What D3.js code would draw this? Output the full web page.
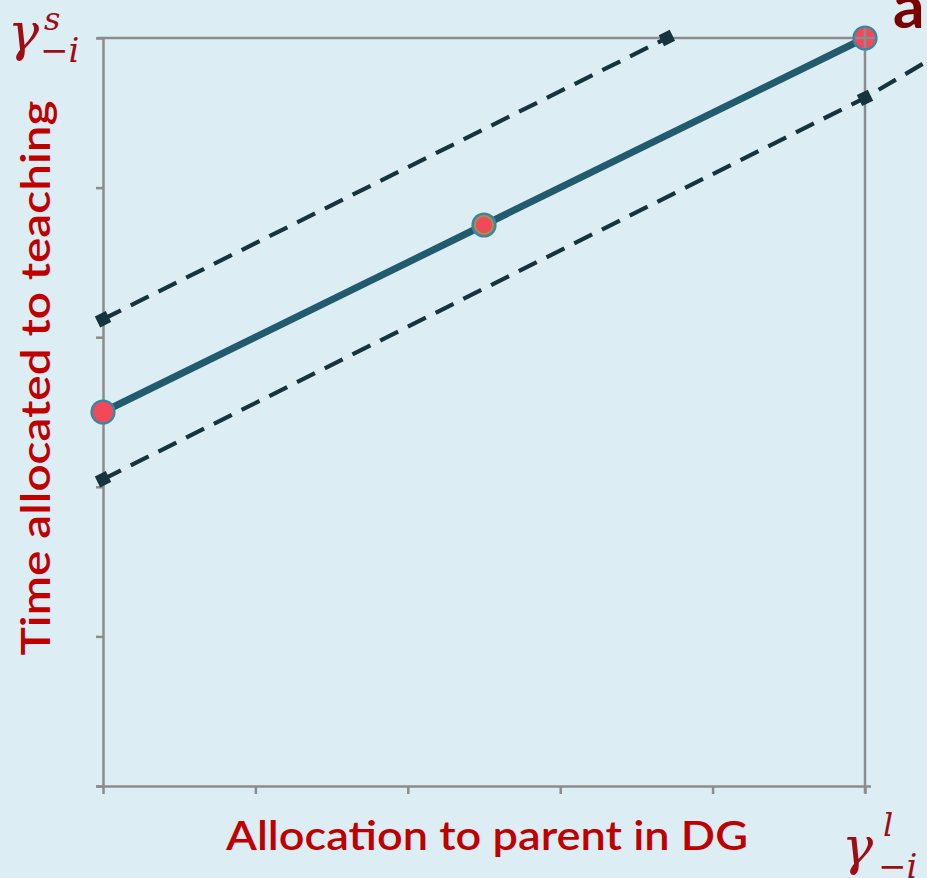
<!DOCTYPE html>
<html><head><meta charset="utf-8">
<script src="https://cdn.jsdelivr.net/npm/d3@7"></script>
<style>html,body{margin:0;padding:0;background:#dceef4;}svg{display:block;}</style>
</head><body>
<script>
// ---- data ----
const xTicks = [0, 1, 2, 3, 4, 5];
const yTicks = [0, 1, 2, 3, 4, 5];
const mainLine = [{x: 0, y: 2.5}, {x: 2.5, y: 3.75}, {x: 5, y: 5}];
const mainPoints = [{x: 0, y: 2.5}, {x: 2.5, y: 3.75, mid: true}, {x: 5, y: 5}];
const upperDash = [{x: 0, y: 3.12}, {x: 3.7, y: 5}];
const upperMarks = [{x: 0, y: 3.12}, {x: 3.7, y: 5}];
const lowerDash = [{x: 0, y: 2.05}, {x: 5, y: 4.6}, {x: 5.5, y: 4.9}];
const lowerMarks = [{x: 0, y: 2.05}, {x: 5, y: 4.6}];
const xTitle = "Allocation to parent in DG";
const yTitle = "Time allocated to teaching";

const W = 927, H = 878;
const svg = d3.select("body").append("svg").attr("width", W).attr("height", H);
svg.append("rect").attr("width", W).attr("height", H).attr("fill", "#dceef4");

const x = d3.scaleLinear().domain([0, 5]).range([103, 865]);
const y = d3.scaleLinear().domain([0, 5]).range([786, 38]);
const axisCol = "#8c8c8c";

// frame lines (top and right)
svg.append("line").attr("x1", x(0) - 6).attr("x2", x(5) + 6).attr("y1", y(5)).attr("y2", y(5))
  .attr("stroke", axisCol).attr("stroke-width", 2.5);
svg.append("line").attr("x1", x(5)).attr("x2", x(5)).attr("y1", y(5) - 8).attr("y2", y(0) + 7)
  .attr("stroke", axisCol).attr("stroke-width", 2.5);

// axes
const gy = svg.append("g").attr("transform", `translate(${x(0)},0)`)
  .call(d3.axisLeft(y).tickValues(yTicks).tickSize(7).tickSizeOuter(0).tickFormat(""));
const gx = svg.append("g").attr("transform", `translate(0,${y(0)})`)
  .call(d3.axisBottom(x).tickValues(xTicks).tickSize(8).tickSizeOuter(0).tickFormat(""));
[gx, gy].forEach(g => {
  g.selectAll("path,line").attr("stroke", axisCol).attr("stroke-width", 2.5);
});
gx.select("path").attr("d", `M${x(0) - 7},0.5H${x(5) + 6}`);

const line = d3.line().x(d => x(d.x)).y(d => y(d.y));

// dashed lines
[upperDash, lowerDash].forEach(data => {
  svg.append("path").attr("d", line(data)).attr("fill", "none")
    .attr("stroke", "#16343e").attr("stroke-width", 4.2).attr("stroke-dasharray", "20,11");
});
// main line
svg.append("path").attr("d", line(mainLine)).attr("fill", "none")
  .attr("stroke", "#215b6d").attr("stroke-width", 7);

// square markers on dashed lines
const ang = -Math.atan(0.5 * (y(0) - y(1)) / (x(1) - x(0))) * 180 / Math.PI;
svg.append("g").selectAll("path").data(upperMarks.concat(lowerMarks)).join("path")
  .attr("d", d3.symbol().type(d3.symbolSquare).size(150)())
  .attr("transform", d => `translate(${x(d.x)},${y(d.y)}) rotate(${ang})`)
  .attr("fill", "#16343e");

// round markers
const pts = svg.append("g").selectAll("g").data(mainPoints).join("g")
  .attr("transform", d => `translate(${x(d.x)},${y(d.y)})`);
pts.append("circle").attr("r", 11.5).attr("fill", "#f2495a")
  .attr("stroke", "#2f8aa6").attr("stroke-width", 2.2);
pts.filter(d => d.mid).append("circle").attr("r", 9).attr("fill", "none")
  .attr("stroke", "#8aa24e").attr("stroke-width", 1.6);
// axis lines over the right point (crosshair look)
svg.append("line").attr("x1", x(5) - 10).attr("x2", x(5) + 10).attr("y1", y(5)).attr("y2", y(5))
  .attr("stroke", axisCol).attr("stroke-width", 2.5);
svg.append("line").attr("x1", x(5)).attr("x2", x(5)).attr("y1", y(5) - 10).attr("y2", y(5) + 10)
  .attr("stroke", axisCol).attr("stroke-width", 2.5);

// titles
const titleFont = "Lato, 'Open Sans', sans-serif";
svg.append("text").text(xTitle).attr("x", 487).attr("y", 850)
  .attr("text-anchor", "middle").attr("font-family", titleFont).attr("font-size", 41)
  .attr("font-weight", 600).attr("fill", "#c00000")
  .attr("textLength", 522).attr("lengthAdjust", "spacingAndGlyphs");
svg.append("text").text(yTitle)
  .attr("transform", "translate(50,378) rotate(-90)")
  .attr("text-anchor", "middle").attr("font-family", titleFont).attr("font-size", 40)
  .attr("font-weight", 600).attr("fill", "#c00000")
  .attr("textLength", 555).attr("lengthAdjust", "spacingAndGlyphs");

// gamma labels
const mathFont = "'DejaVu Serif', 'Liberation Serif', serif";
const gcol = "#a00c14";
function gammaLabel(gx0, base, sup, supX, supY, subX, subY) {
  const g = svg.append("g").attr("fill", gcol).attr("font-family", mathFont).attr("font-style", "italic");
  g.append("text").attr("x", gx0).attr("y", base).attr("font-size", 52).text("γ");
  g.append("text").attr("x", supX).attr("y", supY).attr("font-size", 32).text(sup);
  g.append("text").attr("x", subX).attr("y", subY).attr("font-size", 34).text("−i");
}
gammaLabel(8, 50, "s", 44, 30, 40, 62);
gammaLabel(842, 864, "l", 883, 836, 878, 878);

// partially visible "a" label top-right
svg.append("text").text("a").attr("x", 893).attr("y", 28)
  .attr("font-family", titleFont).attr("font-weight", 700).attr("font-size", 62)
  .attr("fill", "#7a0000");
</script>
</body></html>
